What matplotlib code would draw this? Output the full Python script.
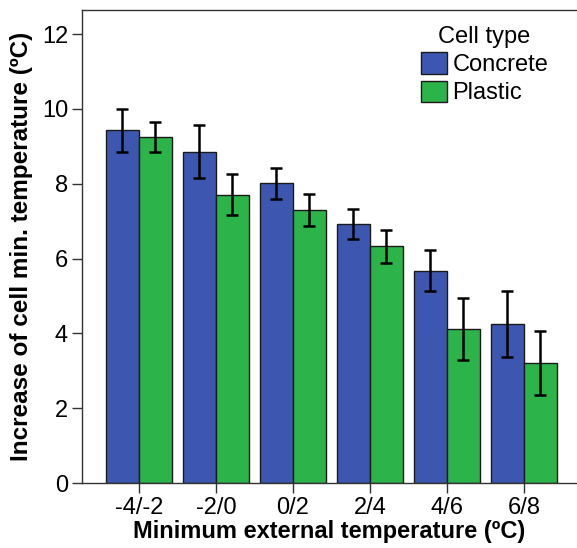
import numpy as np
import matplotlib
matplotlib.use("Agg")
from matplotlib import pyplot as plt

plt.rcParams['font.family'] = ['Liberation Sans', 'DejaVu Sans']

categories = ['-4/-2', '-2/0', '0/2', '2/4', '4/6', '6/8']
concrete = [9.43, 8.85, 8.01, 6.93, 5.67, 4.25]
concrete_err = [0.57, 0.71, 0.42, 0.40, 0.55, 0.88]
plastic = [9.25, 7.70, 7.30, 6.33, 4.12, 3.20]
plastic_err = [0.39, 0.55, 0.42, 0.44, 0.82, 0.86]

blue = '#3D57B0'
green = '#2CB34A'

fig = plt.figure(figsize=(5.77, 5.48), dpi=100)
ax = fig.add_axes([0.142, 0.1186, 0.858, 0.863])

x = np.arange(len(categories))
w = 0.43
err_kw = dict(ecolor='black', elinewidth=1.8, capsize=4.5, capthick=1.8)
ax.bar(x - w / 2, concrete, w, yerr=concrete_err, color=blue, edgecolor='#1a1a1a',
       linewidth=1.0, label='Concrete', error_kw=err_kw)
ax.bar(x + w / 2, plastic, w, yerr=plastic_err, color=green, edgecolor='#1a1a1a',
       linewidth=1.0, label='Plastic', error_kw=err_kw)

ax.set_xlim(-0.74, 5.69)
ax.set_ylim(0, 12.64)
ax.set_yticks([0, 2, 4, 6, 8, 10, 12])
ax.set_xticks(x)
ax.set_xticklabels(categories)
ax.tick_params(labelsize=17, length=7, width=1.0, color='#333333', pad=3)
ax.tick_params(axis='x', pad=3)
ax.spines['right'].set_visible(False)
for s in ['left', 'bottom', 'top']:
    ax.spines[s].set_linewidth(1.0)
    ax.spines[s].set_color('#333333')

ax.set_xlabel('Minimum external temperature (ºC)', fontsize=17, fontweight='bold', labelpad=1)
ax.set_ylabel('Increase of cell min. temperature (ºC)', fontsize=17.5, fontweight='bold', labelpad=6)

leg = ax.legend(title='Cell type', loc='upper right', bbox_to_anchor=(0.985, 1.012),
                frameon=False, fontsize=17, title_fontsize=17,
                handlelength=1.1, handleheight=1.0, handletextpad=0.25, labelspacing=0.2)

fig.savefig('out.png', dpi=100)
